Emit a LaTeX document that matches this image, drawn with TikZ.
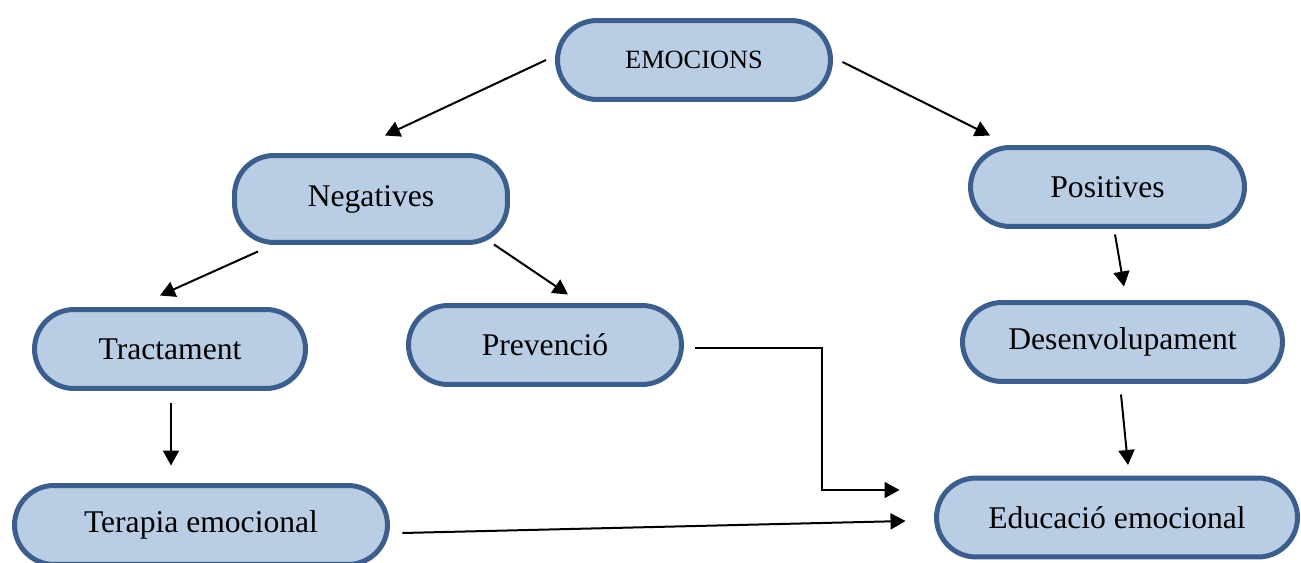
\documentclass[tikz,border=0pt]{standalone}
\usepackage{fontspec}
\setmainfont{Liberation Serif}
\usetikzlibrary{arrows.meta,calc}
\definecolor{vora}{HTML}{3B5E8C}
\definecolor{farciment}{HTML}{B9CDE5}
\tikzset{
    caixa/.style={draw=vora, fill=farciment, line width=0.1cm,
        rounded corners=0.79cm, minimum height=1.58cm,
        font=\fontsize{18}{20}\selectfont},
    fletxa/.style={line width=0.04cm,
        -{Triangle[length=0.3cm,width=0.32cm]}}
}
\begin{document}
\begin{tikzpicture}[x=0.02cm, y=-0.02cm]
    \useasboundingbox (0,0) rectangle (1301,563);
    % Caixes
    \node[caixa, minimum width=5.46cm, font=\fontsize{15}{17}\selectfont]
        (emo) at (694,60) {EMOCIONS};
    \node[caixa, minimum width=5.46cm, minimum height=1.74cm]
        (neg) at (371,199) {Negatives};
    \node[caixa, minimum width=5.48cm] (pos) at (1107.5,187) {Positives};
    \node[caixa, minimum width=5.42cm] (tra) at (170,349) {Tractament};
    \node[caixa, minimum width=5.46cm] (pre) at (545,345) {Prevenció};
    \node[caixa, minimum width=6.4cm] (des) at (1122.5,342) {Desenvolupament};
    \node[caixa, minimum width=7.46cm] (ter) at (201,525) {Terapia emocional};
    \node[caixa, minimum width=7.22cm] (edu) at (1117,517.5) {Educació emocional};
    % Fletxes
    \draw[fletxa] ($(emo.west)+(-9,0)$) -- ($(neg.north)+(14,-17.5)$);
    \draw[fletxa] ($(emo.east)+(9.5,2)$) -- ($(pos.north)+(-117.5,-9.5)$);
    \draw[fletxa] ($(neg.south)+(-113,6.5)$) -- ($(tra.north)+(-10,-11.5)$);
    \draw[fletxa] ($(neg.south)+(123,-0.5)$) -- ($(pre.north)+(23,-8.5)$);
    \draw[fletxa] ($(pos.south)+(7.5,5.5)$) -- ($(des.north)+(1.5,-13.5)$);
    \draw[fletxa] ($(des.south)+(-1.5,10.5)$) -- ($(edu.north)+(11,-10.5)$);
    \draw[fletxa] ($(tra.south)+(1,12.5)$) -- ($(ter.north)+(-30,-17.5)$);
    \draw[fletxa] ($(pre.east)+(11.5,3)$) -- ++(127,0)
        |- ($(edu.west)+(-34.5,-27.5)$);
    \draw[fletxa] ($(ter.east)+(12.5,8)$) -- ($(edu.west)+(-28.5,3.5)$);
\end{tikzpicture}
\end{document}
